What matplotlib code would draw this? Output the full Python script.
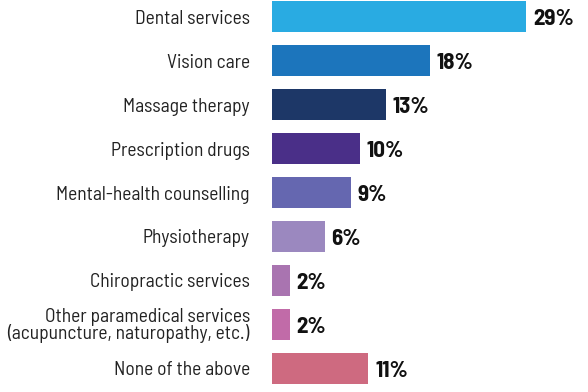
import matplotlib.pyplot as plt

categories = [
    "Dental services",
    "Vision care",
    "Massage therapy",
    "Prescription drugs",
    "Mental-health counselling",
    "Physiotherapy",
    "Chiropractic services",
    "Other paramedical services\n(acupuncture, naturopathy, etc.)",
    "None of the above",
]
values = [29, 18, 13, 10, 9, 6, 2, 2, 11]
colors = ["#29abe2", "#1c75bc", "#1d3767", "#4a2f88", "#6567b0",
          "#9b88bf", "#a974b0", "#c16ba8", "#ce6a80"]

plt.rcParams['font.family'] = ['Barlow Semi Condensed', 'DejaVu Sans']

fig = plt.figure(figsize=(5.88, 3.92), dpi=100)
ax = fig.add_axes([272 / 588, 0, 1 - 272 / 588, 1])

pos = list(range(len(categories)))
ax.barh(pos, values, height=0.71, color=colors)

# value labels at the end of each bar
for y, v in zip(pos, values):
    ax.text(v + 0.8, y + 0.05, f"{v}%", va='center', ha='left',
            fontsize=16.5, fontweight='bold', color='#111111')

ax.set_xlim(0, 36.1)
ax.set_ylim(8.535, -0.376)

ax.set_yticks(pos)
ax.set_yticklabels(categories, fontsize=14, color='#222222', linespacing=0.9)
ax.tick_params(axis='y', length=0, pad=16)
ax.set_xticks([])
for s in ax.spines.values():
    s.set_visible(False)

fig.savefig("out.png", dpi=100)
